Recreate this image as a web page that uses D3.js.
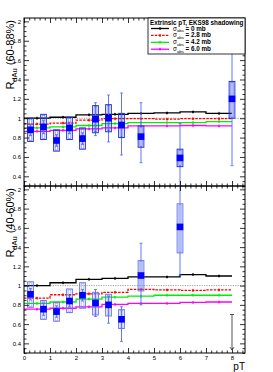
<!DOCTYPE html>
<html><head><meta charset="utf-8">
<script src="https://cdn.jsdelivr.net/npm/d3@7"></script>
<style>body{margin:0;background:#fff}svg{display:block;font-family:"Liberation Sans",Arial,sans-serif}</style>
</head><body><svg id="c" width="273" height="372"></svg>
<script>
// ---- data ----
const ptData = [0.25,0.75,1.25,1.75,2.25,2.75,3.25,3.75,4.5,6,8];
// top panel (60-88%)
const topVal    = [0.88,0.91,0.77,0.90,0.79,0.99,1.00,0.93,0.81,0.59,1.20];
const topSysLo  = [0.76,0.78,0.66,0.78,0.68,0.85,0.86,0.80,0.70,0.50,1.00];
const topSysHi  = [1.00,1.04,0.88,1.01,0.90,1.13,1.14,1.05,0.92,0.68,1.38];
const topStatLo = [0.82,0.84,0.71,0.84,0.73,0.82,0.755,0.62,0.54,0.20,0.51];
const topStatHi = [0.94,0.98,0.83,0.96,0.85,1.16,1.24,1.26,1.16,0.945,1.90];
// bottom panel (40-60%), last point is an upper limit
const botVal    = [0.91,0.755,0.73,0.84,0.90,0.82,0.80,0.65,1.105,1.61];
const botSysLo  = [0.775,0.65,0.63,0.72,0.765,0.695,0.685,0.555,0.945,1.34];
const botSysHi  = [1.04,0.845,0.825,0.965,1.03,0.93,0.91,0.75,1.26,1.85];
const botStatLo = [0.85,0.69,0.67,0.78,0.84,0.68,0.61,0.42,0.80,1.11];
const botStatHi = [0.97,0.82,0.79,0.90,0.96,0.96,0.89,0.78,1.44,2.11];
const botLimitPt = 8, botLimitHi = 0.70, botLimitLo = 0.33;
// model curves, bins 0-1 ... 7-8
const binEdges = [0,1,2,3,4,5,6,7,8];
const topModel = {
  s0:  [1.00,1.01,1.035,1.04,1.05,1.055,1.065,1.05],
  s28: [0.94,0.95,0.98,0.995,0.995,0.99,0.995,0.995],
  s42: [0.90,0.91,0.925,0.945,0.955,0.955,0.955,0.965],
  s60: [0.865,0.875,0.89,0.90,0.92,0.92,0.925,0.92]
};
const botModel = {
  s0:  [1.00,1.03,1.065,1.075,1.09,1.09,1.115,1.10],
  s28: [0.87,0.905,0.915,0.93,0.96,0.955,0.95,0.955],
  s42: [0.815,0.83,0.86,0.88,0.89,0.90,0.90,0.90],
  s60: [0.755,0.765,0.78,0.805,0.815,0.815,0.825,0.83]
};
const seriesKeys = ["s0","s28","s42","s60"];
const seriesLabel = ["= 0 mb","= 2.8 mb","= 4.2 mb","= 6.0 mb"];
const seriesColor = ["#000000","#ff0000","#00ee00","#ff00ff"];
const seriesDash = [null,"2.5,1.2",null,null];
const legendTitle = "Extrinsic pT, EKS98 shadowing";
const yTicks = [0.4,0.6,0.8,1,1.2,1.4,1.6,1.8,2];
const xTicks = [0,1,2,3,4,5,6,7,8];

// ---- layout ----
const svg = d3.select("#c");
const L=24,R=245,T=18,M=186,B=353;
const x = d3.scaleLinear([0,8.5],[L,R]);
const yTop = d3.scaleLinear([0.3,2.035],[M,T]);
const yBot = d3.scaleLinear([0.3,2.035],[B,M]);

const defs = svg.append("defs");
function clip(id,y0,y1){defs.append("clipPath").attr("id",id).append("rect").attr("x",L).attr("y",y0).attr("width",R-L).attr("height",y1-y0);}
clip("ct",T,M); clip("cb",M,B);

function minorVals(a,b,s){const r=[];for(let v=a;v<=b+1e-9;v+=s){r.push(+v.toFixed(3));}return r;}
const yMinor = minorVals(0.3,2.03,0.05).filter(v=>Math.abs(v*5-Math.round(v*5))>1e-6);
const xMinor = minorVals(0,8.4,0.2).filter(v=>Math.abs(v-Math.round(v))>1e-6);

function panel(y, y0, y1, cid, title, model, vals, sLo, sHi, eLo, eHi, boxCol, showX){
  const g = svg.append("g");
  // y=1 dotted
  g.append("line").attr("x1",L).attr("x2",R).attr("y1",y(1)).attr("y2",y(1))
    .attr("stroke","#888").attr("stroke-width",0.8).attr("stroke-dasharray","1.2,1.2");
  // model curves
  const mg = g.append("g").attr("clip-path",`url(#${cid})`);
  seriesKeys.forEach((k,i)=>{
    const v = model[k];
    const pts = v.map((d,j)=>[binEdges[j],d]); pts.push([binEdges[8],v[7]]);
    mg.append("path").attr("d",d3.line().x(d=>x(d[0])).y(d=>y(d[1])).curve(d3.curveStepAfter)(pts))
      .attr("fill","none").attr("stroke",seriesColor[i]).attr("stroke-width",1.3)
      .attr("stroke-dasharray",seriesDash[i]);
    v.forEach((d,j)=>{
      const cx=x(binEdges[j]+0.5), cy=y(d);
      mg.append("line").attr("x1",cx).attr("x2",cx).attr("y1",cy-1.5).attr("y2",cy+1.5).attr("stroke",seriesColor[i]).attr("stroke-width",0.8);
      mg.append("circle").attr("cx",cx).attr("cy",cy).attr("r",1).attr("fill",seriesColor[i]);
    });
  });
  // data
  const dg = g.append("g").attr("clip-path",`url(#${cid})`);
  vals.forEach((v,i)=>{
    const px = x(ptData[i]);
    dg.append("line").attr("x1",px).attr("x2",px).attr("y1",y(eLo[i])).attr("y2",y(eHi[i]))
      .attr("stroke","#5566ff").attr("stroke-width",0.9);
    [[eLo[i]],[eHi[i]]].forEach(e=>dg.append("line").attr("x1",px-1.5).attr("x2",px+1.5).attr("y1",y(e[0])).attr("y2",y(e[0])).attr("stroke","#5566ff").attr("stroke-width",0.8));
    const w1 = x(0.11)-x(0), w2 = x(0.05)-x(0);
    dg.append("rect").attr("x",px-w1).attr("width",2*w1).attr("y",y(sHi[i])).attr("height",y(sLo[i])-y(sHi[i]))
      .attr("fill","none").attr("stroke",boxCol).attr("stroke-width",1);
    dg.append("rect").attr("x",px-w2).attr("width",2*w2).attr("y",y(sHi[i])+1).attr("height",y(sLo[i])-y(sHi[i])-2)
      .attr("fill","none").attr("stroke",boxCol).attr("stroke-width",0.6).attr("opacity",0.7);
    dg.append("rect").attr("x",px-3.3).attr("y",y(v)-3.3).attr("width",6.6).attr("height",6.6).attr("fill","#0000ff");
  });
  // frame
  g.append("rect").attr("x",L).attr("y",y0).attr("width",R-L).attr("height",y1-y0).attr("fill","none").attr("stroke","#000").attr("stroke-width",1);
  // axes
  const ax = (a)=>g.append("g").call(a).call(s=>s.select(".domain").remove()).call(s=>s.selectAll("line").attr("stroke","#000").attr("stroke-width",0.8));
  ax(d3.axisLeft(y).tickValues(yTicks).tickSizeInner(-5).tickSizeOuter(0).tickPadding(3).tickFormat(d3.format("~g")))
    .attr("transform",`translate(${L},0)`).call(s=>s.selectAll("text").attr("font-size",6).attr("font-family","Liberation Sans, Arial"));
  ax(d3.axisLeft(y).tickValues(yMinor).tickSizeInner(-2.5).tickSizeOuter(0).tickFormat("")).attr("transform",`translate(${L},0)`);
  ax(d3.axisRight(y).tickValues(yTicks).tickSizeInner(-5).tickSizeOuter(0).tickFormat("")).attr("transform",`translate(${R},0)`);
  ax(d3.axisRight(y).tickValues(yMinor).tickSizeInner(-2.5).tickSizeOuter(0).tickFormat("")).attr("transform",`translate(${R},0)`);
  ax(d3.axisTop(x).tickValues(xTicks).tickSizeInner(-5).tickSizeOuter(0).tickFormat("")).attr("transform",`translate(0,${y0})`);
  ax(d3.axisTop(x).tickValues(xMinor).tickSizeInner(-2.5).tickSizeOuter(0).tickFormat("")).attr("transform",`translate(0,${y0})`);
  const bx = ax(d3.axisBottom(x).tickValues(xTicks).tickSizeInner(-5).tickSizeOuter(0).tickPadding(3).tickFormat(showX?d3.format("d"):"")).attr("transform",`translate(0,${y1})`);
  bx.selectAll("text").attr("font-size",6).attr("font-family","Liberation Sans, Arial");
  ax(d3.axisBottom(x).tickValues(xMinor).tickSizeInner(-2.5).tickSizeOuter(0).tickFormat("")).attr("transform",`translate(0,${y1})`);
  // y title
  const t = g.append("text").attr("transform",`translate(14,${y0+2}) rotate(-90)`).attr("text-anchor","end").attr("font-size",11);
  t.append("tspan").text("R");
  t.append("tspan").attr("font-size",7.5).attr("dy",2.5).text("dAu");
  t.append("tspan").attr("dy",-2.5).text(" " + title);
  return g;
}

panel(yTop,T,M,"ct","(60-88%)",topModel,topVal,topSysLo,topSysHi,topStatLo,topStatHi,"#2233dd",false);
const gb = panel(yBot,M,B,"cb","(40-60%)",botModel,botVal,botSysLo,botSysHi,botStatLo,botStatHi,"#6677ee",true);

// upper limit
{
  const px = x(botLimitPt);
  gb.append("line").attr("x1",px).attr("x2",px).attr("y1",yBot(botLimitHi)).attr("y2",yBot(botLimitLo)).attr("stroke","#444").attr("stroke-width",0.9);
  gb.append("line").attr("x1",px-2).attr("x2",px+2).attr("y1",yBot(botLimitHi)).attr("y2",yBot(botLimitHi)).attr("stroke","#444").attr("stroke-width",0.9);
  const ay = yBot(botLimitLo);
  gb.append("path").attr("d",`M${px-2},${ay-3}L${px},${ay}L${px+2},${ay-3}`).attr("fill","none").attr("stroke","#444").attr("stroke-width",0.9);
}

// x title
svg.append("text").attr("x",R).attr("y",370).attr("text-anchor","end").attr("font-size",10).text("pT");

// legend
{
  const lx0=148, ly0=T, lw=R-148, lh=36;
  const lg = svg.append("g");
  lg.append("rect").attr("x",lx0).attr("y",ly0).attr("width",lw).attr("height",lh).attr("fill","#fff").attr("stroke","#000").attr("stroke-width",0.8);
  lg.append("text").attr("x",lx0+2).attr("y",ly0+6.5).attr("font-size",6.3).attr("font-weight","bold").text(legendTitle);
  seriesKeys.forEach((k,i)=>{
    const cy = ly0+10.5+i*6.9;
    lg.append("line").attr("x1",lx0+3).attr("x2",lx0+21).attr("y1",cy).attr("y2",cy).attr("stroke",seriesColor[i]).attr("stroke-width",1.3).attr("stroke-dasharray",seriesDash[i]);
    lg.append("line").attr("x1",lx0+12).attr("x2",lx0+12).attr("y1",cy-1.5).attr("y2",cy+1.5).attr("stroke",seriesColor[i]).attr("stroke-width",0.8);
    lg.append("circle").attr("cx",lx0+12).attr("cy",cy).attr("r",1).attr("fill",seriesColor[i]);
    const t = lg.append("text").attr("x",lx0+25).attr("y",cy+2).attr("font-size",6.3);
    t.append("tspan").text("σ");
    t.append("tspan").attr("font-size",4.3).attr("dy",1.8).text("abs");
    t.append("tspan").attr("dy",-1.8).attr("font-weight","bold").text(" " + seriesLabel[i]);
  });
}
</script></body></html>
